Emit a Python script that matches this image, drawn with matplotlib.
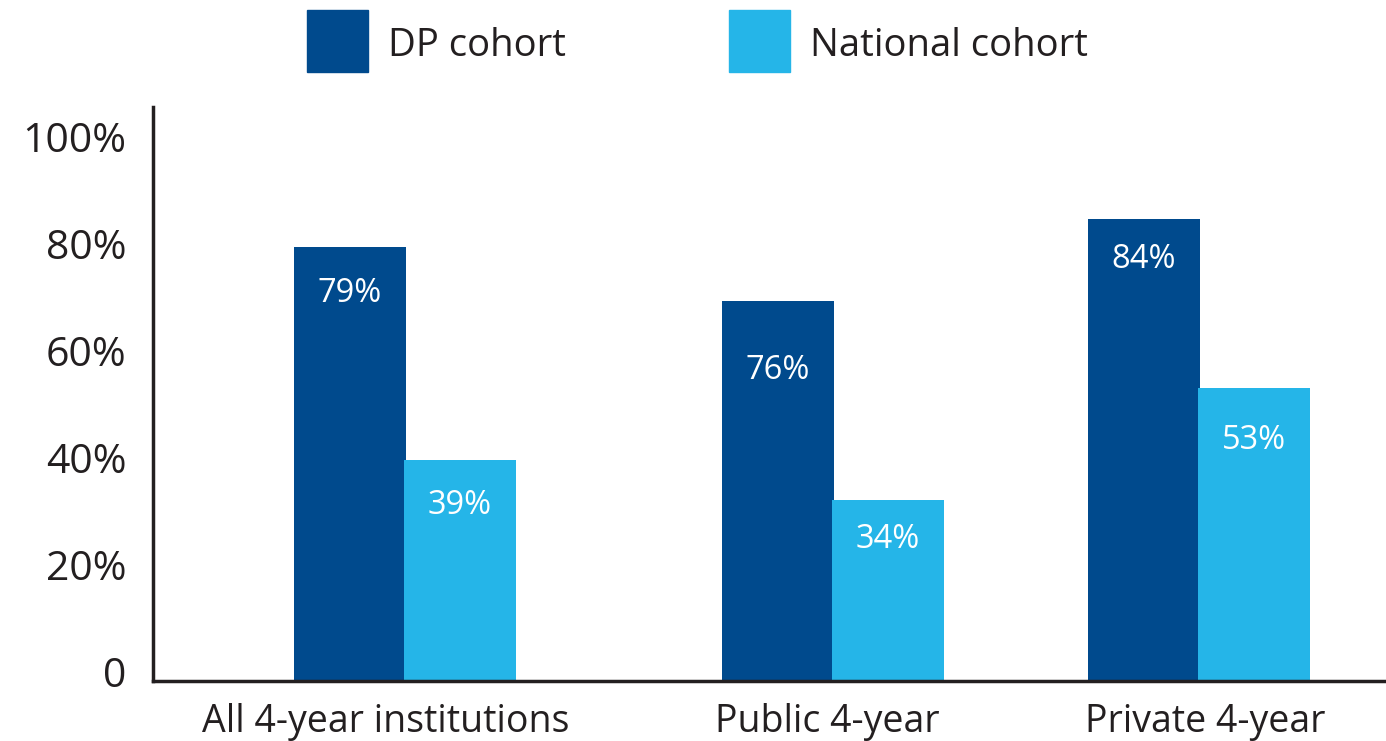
import matplotlib.pyplot as plt
import numpy as np

plt.rcParams['font.family'] = ['Open Sans', 'DejaVu Sans']

# data
categories = ["All 4-year institutions", "Public 4-year", "Private 4-year"]
dp_heights = [79.4, 69.3, 84.7]        # drawn bar heights
national_heights = [39.6, 32.1, 53.1]
dp_labels = ["79%", "76%", "84%"]      # printed values
national_labels = ["39%", "34%", "53%"]
yticks = [0, 20, 40, 60, 80, 100]
ytick_labels = ["0", "20%", "40%", "60%", "80%", "100%"]

# layout (axes x units are pixels from the left spine)
group_x = np.array([252, 680, 1046])
label_x = [233, 674, 1052]
bar_w = 112
dp_text_y = [70.8, 56.4, 77.0]
nat_text_y = [31.2, 24.7, 43.2]
y_min, y_max = -1.7, 105.6

dark_blue = "#004a8d"
light_blue = "#25b5e8"
ink = "#231f20"

fig = plt.figure(figsize=(13.86, 7.41), dpi=100)
ax = fig.add_axes([153 / 1386, 1 - 681 / 741, 1 - 153 / 1386, (681 - 107) / 741])

# bars run down to the axis line
ax.bar(group_x - 55, np.array(dp_heights) - y_min, bottom=y_min, width=bar_w,
       color=dark_blue, zorder=2)
ax.bar(group_x + 55, np.array(national_heights) - y_min, bottom=y_min, width=bar_w,
       color=light_blue, zorder=2)

for x, y, t in zip(group_x - 55, dp_text_y, dp_labels):
    ax.text(x, y, t, ha="center", va="center", color="white", fontsize=23.5)
for x, y, t in zip(group_x + 55, nat_text_y, national_labels):
    ax.text(x, y, t, ha="center", va="center", color="white", fontsize=23.5)

ax.set_xlim(0, 1233)
ax.set_ylim(y_min, y_max)
ax.set_yticks(yticks)
ax.set_yticklabels(ytick_labels, fontsize=29.5, color=ink)
ax.set_xticks(label_x)
ax.set_xticklabels(categories, fontsize=27, color=ink)
ax.tick_params(axis="both", length=0)
ax.tick_params(axis="y", pad=19)
ax.tick_params(axis="x", pad=16)

for s in ["top", "right"]:
    ax.spines[s].set_visible(False)
for s in ["left", "bottom"]:
    ax.spines[s].set_linewidth(2.5)
    ax.spines[s].set_color(ink)
    ax.spines[s].set_zorder(3)

# legend drawn as squares + text at top
fig.patches.append(plt.Rectangle((307 / 1386, 1 - 72 / 741), 61 / 1386, 62 / 741,
                                 transform=fig.transFigure, color=dark_blue))
fig.patches.append(plt.Rectangle((729 / 1386, 1 - 72 / 741), 61 / 1386, 62 / 741,
                                 transform=fig.transFigure, color=light_blue))
fig.text(388 / 1386, 1 - 46 / 741, "DP cohort", fontsize=27.5, color=ink, va="center")
fig.text(810 / 1386, 1 - 46 / 741, "National cohort", fontsize=27.5, color=ink, va="center")

fig.savefig("out.png", dpi=100)
